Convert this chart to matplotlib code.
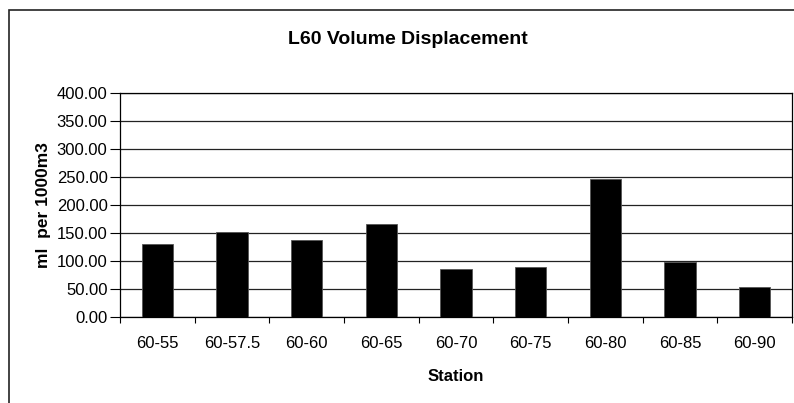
import matplotlib.pyplot as plt
from matplotlib.patches import Rectangle

plt.rcParams['font.family'] = ['Liberation Sans', 'DejaVu Sans']

# L60 volume displacement per station (ml per 1000m3)
stations = ['60-55', '60-57.5', '60-60', '60-65', '60-70', '60-75', '60-80', '60-85', '60-90']
volume = [130.7, 152.2, 137.9, 165.4, 85.4, 88.4, 246.6, 98.5, 53.2]
yticks = [0, 50, 100, 150, 200, 250, 300, 350, 400]

fig = plt.figure(figsize=(7.94, 4.03), dpi=100)
ax = fig.add_axes([120 / 794, (403 - 316.7) / 403, 672 / 794, 223.4 / 403])

x = range(len(stations))
ax.bar(x, volume, width=0.42, color='black', edgecolor='#555555', linewidth=0.6, zorder=3)

ax.set_xlim(-0.5, len(stations) - 0.5)
ax.set_ylim(0, 400)
ax.set_yticks(yticks)
ax.set_yticklabels([f'{v:.2f}' for v in yticks])
# major ticks sit between categories, labels go on minor ticks at the centres
ax.set_xticks([i + 0.5 for i in range(-1, len(stations))], minor=False)
ax.set_xticklabels([])
ax.set_xticks(list(x), minor=True)
ax.set_xticklabels(stations, minor=True)
ax.tick_params(axis='x', which='major', length=4, width=0.8, direction='out', color='black')
ax.tick_params(axis='x', which='minor', length=0, pad=14, labelsize=12)
ax.tick_params(axis='y', length=7, width=0.8, direction='out', labelsize=12, pad=2)

ax.grid(axis='y', color='#222222', linewidth=0.9, zorder=0)
for s in ax.spines.values():
    s.set_color('black')
    s.set_linewidth(0.9)

ax.set_xlabel('Station', fontsize=12, fontweight='bold', labelpad=12.5)
ax.set_ylabel('ml  per 1000m3', fontsize=12.5, fontweight='bold', labelpad=4)

fig.text(408 / 794, 1 - 39 / 403, 'L60 Volume Displacement', ha='center', va='center',
         fontsize=14, fontweight='bold')

# chart frame
fig.patches.append(Rectangle((9 / 794, -0.1), 1.2, 1 - 10 / 403 + 0.1, transform=fig.transFigure,
                             fill=False, edgecolor='#222222', linewidth=1.2))

fig.savefig('out.png', dpi=100)
